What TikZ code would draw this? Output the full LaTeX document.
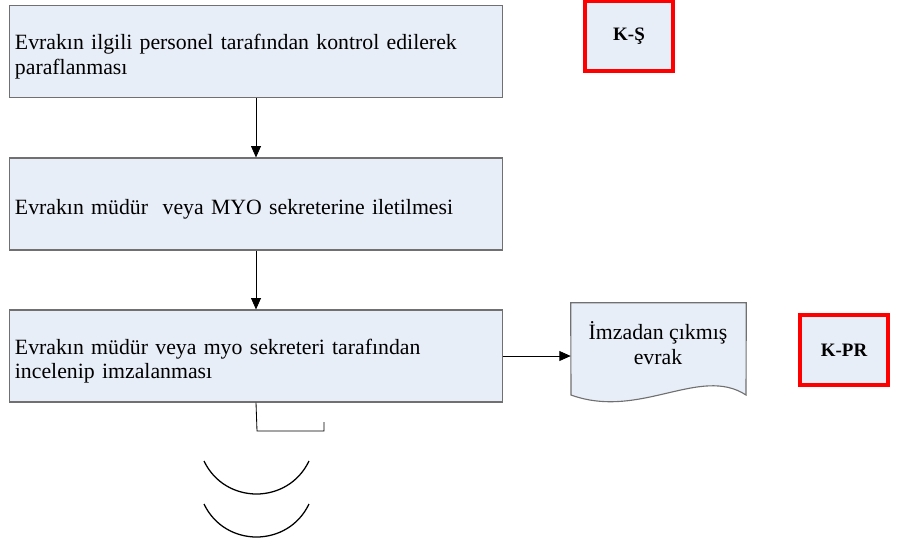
\documentclass[tikz,border=0pt]{standalone}
\usepackage{fontspec}
\setmainfont{Liberation Serif}
\usetikzlibrary{arrows.meta,positioning}

\definecolor{boxfill}{HTML}{E8EEF8}
\definecolor{boxline}{HTML}{707070}

\begin{document}
\begin{tikzpicture}
  [x=0.025cm,y=-0.025cm,
  procbox/.style={draw=boxline,fill=boxfill,line width=0.8pt,
    minimum width=12.3cm,minimum height=2.3cm,text width=12.05cm,
    align=left,inner sep=0.125cm,font=\fontsize{15.5}{17.5}\selectfont,
    execute at begin node=\rule{0pt}{18pt}},
  codebox/.style={draw=red,fill=boxfill,line width=2.2pt,
    minimum width=2.2cm,minimum height=1.75cm,font=\bfseries\fontsize{13.5}{16}\selectfont},
  flow/.style={-{Triangle[length=8pt,width=7pt]},line width=0.6pt}]
  \useasboundingbox (0,0) rectangle (901,546);
  \node[procbox] (parafla) at (256,51.5) {Evrakın ilgili personel tarafından kontrol edilerek\\paraflanması};
  \node[procbox] (ileti) at (256,204) {Evrakın müdür\ \ veya MYO sekreterine iletilmesi};
  \node[procbox] (imza) at (256,356) {Evrakın müdür veya myo sekreteri tarafından\\incelenip imzalanması};
  \node[codebox] (ks) at (629,36) {K-Ş};
  \node[codebox] (kpr) at (844,350) {K-PR};
  % belge sekli
  \node[minimum width=4.375cm,minimum height=2.65cm,inner sep=0pt] (evrak) at (658.5,356) {};
  \fill[boxfill,draw=boxline,line width=0.8pt] (evrak.north west) -- (evrak.north east)
    -- (746,395) .. controls (700,365) and (640,420) .. (571,395) -- cycle;
  \node[align=center,font=\fontsize{15.5}{17.5}\selectfont] (evrakyazi) at (658,343) {İmzadan çıkmış\\evrak};
  \draw[flow] (parafla) -- (ileti);
  \draw[flow] (ileti) -- (imza);
  \draw[flow] (imza.east) -- (evrak.west);
  % alt cizgiler
  \coordinate (kose1) at (257,431);
  \coordinate (kose2) at (324,431);
  \coordinate (kose3) at (324,422);
  \draw[line width=0.6pt] (imza.south) -- (kose1) -- (kose2) -- (kose3);
  \coordinate (yay1) at (204,461);
  \coordinate (yay2) at (204,504);
  \draw[line width=0.9pt] (yay1) .. controls (225,505) and (288,505) .. (309,461);
  \draw[line width=0.9pt] (yay2) .. controls (225,548) and (288,548) .. (309,504);
\end{tikzpicture}
\end{document}
